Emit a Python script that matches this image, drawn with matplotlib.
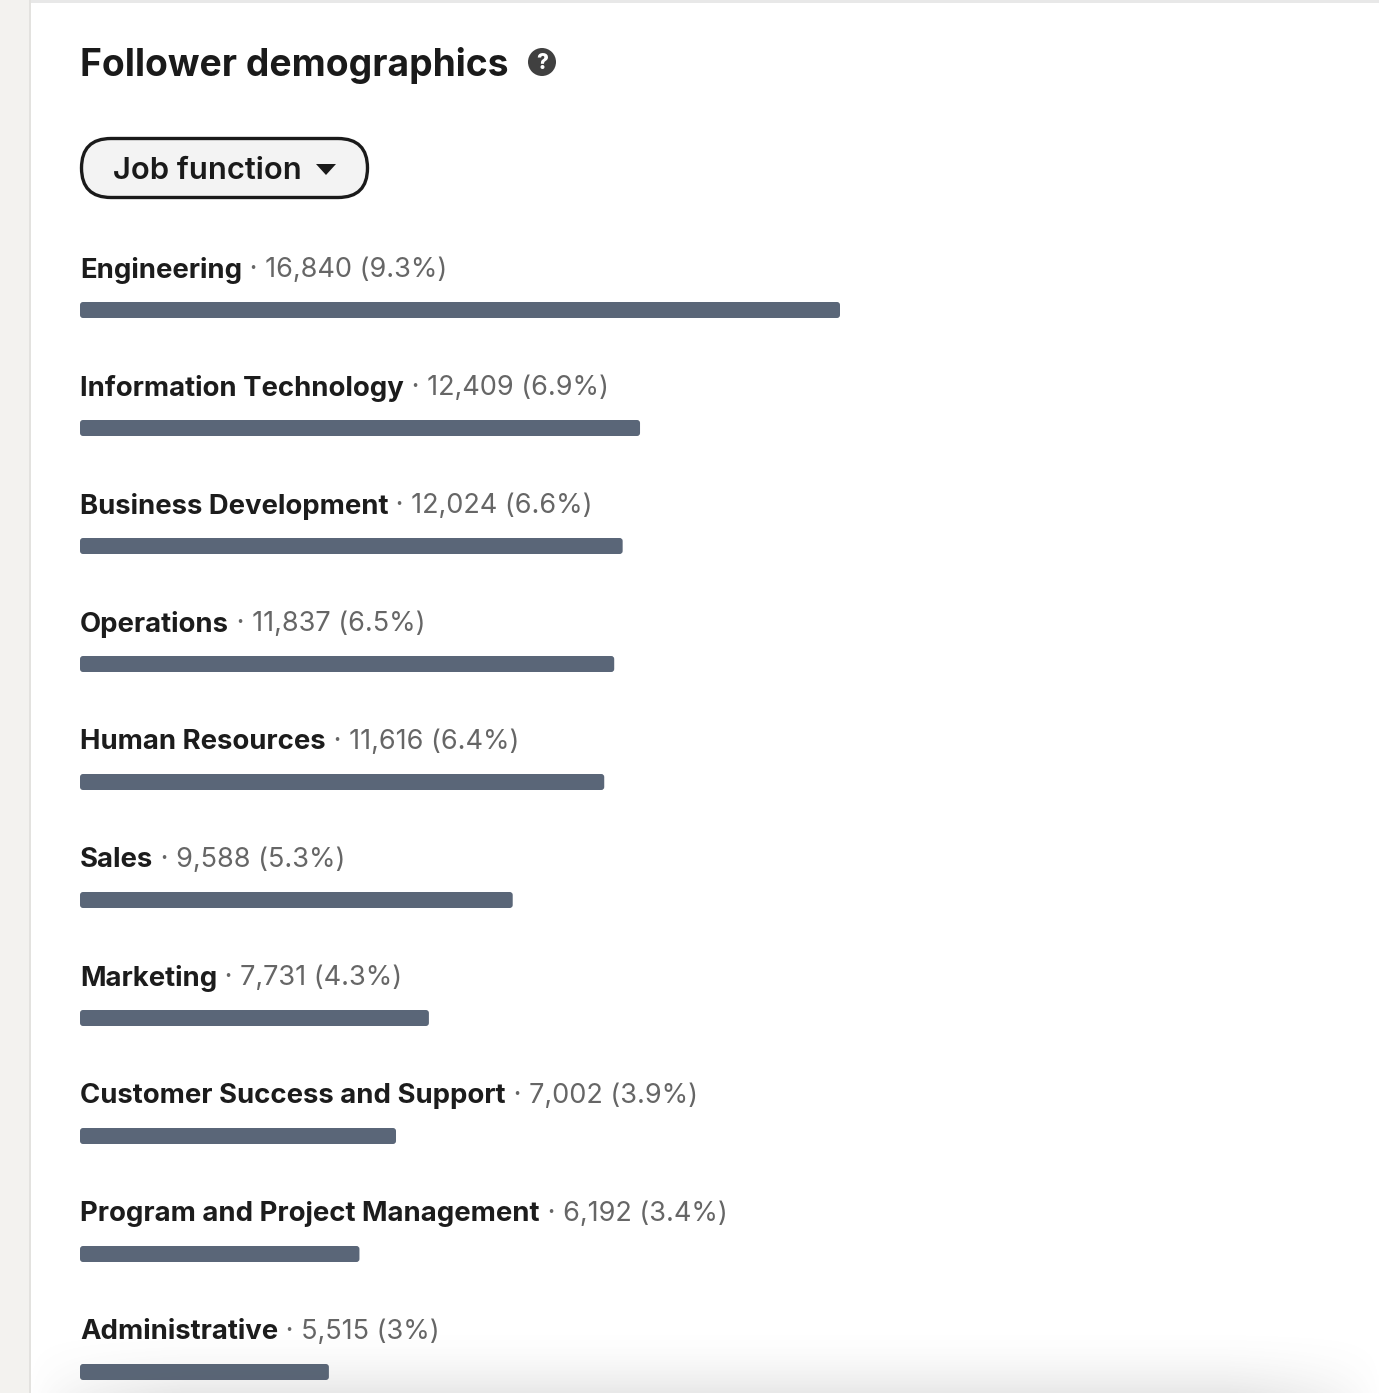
import numpy as np
import matplotlib.pyplot as plt
from matplotlib.patches import FancyBboxPatch, Circle, Polygon, Rectangle

plt.rcParams['font.family'] = ['Inter', 'DejaVu Sans']

# data
functions = ['Engineering', 'Information Technology', 'Business Development',
             'Operations', 'Human Resources', 'Sales', 'Marketing',
             'Customer Success and Support', 'Program and Project Management',
             'Administrative']
counts = [16840, 12409, 12024, 11837, 11616, 9588, 7731, 7002, 6192, 5515]
shares = ['9.3%', '6.9%', '6.6%', '6.5%', '6.4%', '5.3%', '4.3%', '3.9%', '3.4%', '3%']

W, H = 1379, 1393
fig = plt.figure(figsize=(W / 100, H / 100), dpi=100)
fig.patch.set_facecolor('white')

# page layer in pixel coordinates
ax = fig.add_axes([0, 0, 1, 1])
ax.set_xlim(0, W)
ax.set_ylim(H, 0)
ax.axis('off')

# left grey strip + borders
ax.add_patch(Rectangle((0, 0), 29, H, color='#f3f2ef', lw=0, zorder=0))
ax.add_patch(Rectangle((29, 0), 2, H, color='#e3e2df', lw=0, zorder=0))
ax.add_patch(Rectangle((31, 0), W - 31, 3, color='#e8e8e8', lw=0, zorder=0))

# title
ax.text(80, 65, 'Follower demographics', fontsize=26.8, fontweight='bold',
        color='#1a1a1a', va='center', ha='left')
ax.add_patch(Circle((542, 62), 14, color='#404040', lw=0))
ax.text(542, 63, '?', fontsize=15, fontweight='heavy', color='white',
        ha='center', va='center')

# dropdown pill
ax.add_patch(FancyBboxPatch((81.5, 138.5), 286, 59,
                            boxstyle='round,pad=0,rounding_size=29.5',
                            fc='#f3f3f3', ec='#1a1a1a', lw=2.4))
ax.text(113, 171, 'Job function', fontsize=22.3, fontweight='semibold',
        color='#1a1a1a', va='center', ha='left')
ax.add_patch(Polygon([[316, 164], [336, 164], [326, 175]], closed=True,
                     color='#1a1a1a', lw=0))

# rows
row0, step = 268, 118
for i, (name, n, pct) in enumerate(zip(functions, counts, shares)):
    y = row0 + i * step
    t = ax.text(80, y + 2, name, fontsize=19.8, fontweight='bold',
                color='#1c1c1c', va='center', ha='left')
    ax.annotate(' \u00b7 {:,} ({})'.format(n, pct), xy=(1, 0), xycoords=t,
                va='bottom', ha='left', fontsize=19.5, color='#666666')

# bars: x in follower counts
bx = fig.add_axes([80 / W, 0, 760 / W, 1])
bx.set_xlim(0, max(counts))
bx.set_ylim(H, 0)
bx.axis('off')
bx.patch.set_alpha(0)
px = max(counts) / 760.0
for i, n in enumerate(counts):
    yc = row0 + i * step + 42
    bx.add_patch(FancyBboxPatch((0, yc - 8), n, 16,
                                boxstyle='round,pad=0,rounding_size=%f' % (3 * px),
                                mutation_aspect=1 / px,
                                fc='#5a6678', ec='none', clip_on=False))

# bottom shadow (dark at the bottom edge, fading upward and at the sides)
sh = fig.add_axes([31 / W, 0, (W - 31) / W, 70 / H])
sh.axis('off')
sh.patch.set_alpha(0)
yy = np.linspace(0, 1, 70)[:, None]
xx = np.linspace(-1, 1, 600)[None, :]
alpha = (1 - yy) ** 2 * 0.14 * np.clip(1.25 - np.abs(xx) ** 6 * 1.2, 0, 1)
img = np.zeros((70, 600, 4))
img[..., :3] = 0.35
img[..., 3] = alpha
sh.imshow(img, aspect='auto', extent=[0, 1, 0, 1], origin='lower')
sh.set_xlim(0, 1)
sh.set_ylim(0, 1)

fig.savefig('out.png', dpi=100, facecolor='white')
